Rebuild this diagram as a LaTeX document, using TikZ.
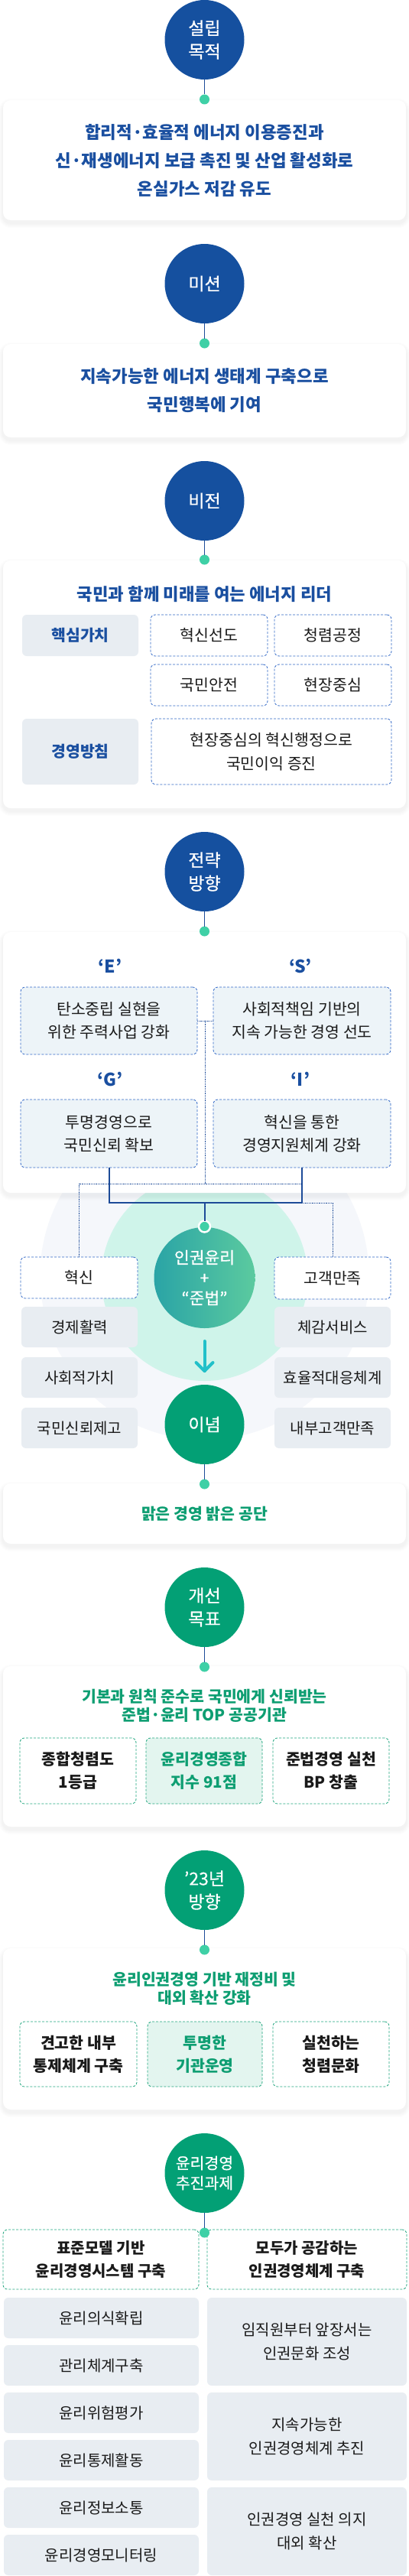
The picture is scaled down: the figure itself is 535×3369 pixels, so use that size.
\documentclass[tikz,border=0pt]{standalone}
\usepackage{fontspec}
\setmainfont{Noto Sans CJK KR}
\newfontfamily\medf{Noto Sans CJK KR}[FakeBold=0.5]
\usetikzlibrary{calc}
\definecolor{cblue}{HTML}{15509F}
\definecolor{tblue}{HTML}{1A4FA0}
\definecolor{mint}{HTML}{3FD0A6}
\definecolor{lineb}{HTML}{1D4B98}
\definecolor{grayb}{HTML}{E8EDF2}
\definecolor{dashb}{HTML}{2F66C6}
\definecolor{lightb}{HTML}{EDF4F8}
\definecolor{cgreen}{HTML}{03A075}
\definecolor{tgreen}{HTML}{0E9E72}
\definecolor{dashg}{HTML}{1FA57D}
\definecolor{lightg}{HTML}{E3F5EF}
\definecolor{arrowc}{HTML}{22C0C9}
\definecolor{pale}{HTML}{F5F7FB}
\definecolor{glowc}{HTML}{CFF4EA}
\definecolor{txt}{HTML}{1A1A1A}
\definecolor{gradl}{HTML}{2AA4A6}
\definecolor{gradr}{HTML}{5BCA9F}
\pgfdeclareradialshading{glowshade}{\pgfpoint{0bp}{0bp}}{color(0bp)=(glowc);color(24bp)=(glowc);color(50bp)=(pale)}
\newcommand\mkbox[7]{\node[#6, minimum width={(#4)-(#2)}, minimum height={(#5)-(#3)}] (#1) at ({((#2)+(#4))/2},{((#3)+(#5))/2}) {#7};}
\newcommand\mkcard[5]{%
 \foreach \k in {1,...,6}{\fill[black,opacity=0.008,rounded corners={10+\k}] ({#2-\k},{#3-\k+4}) rectangle ({#4+\k},{#5+\k+4});}%
 \node[cardst, minimum width={(#4)-(#2)}, minimum height={(#5)-(#3)}] (#1) at ({((#2)+(#4))/2},{((#3)+(#5))/2}) {};}
\tikzset{
 every node/.style={inner sep=0pt, outer sep=0pt},
 bigc/.style={circle, minimum size=104, fill=cblue, text=white, align=center, font=\medf\fontsize{23}{30.5}\selectfont},
 bigg/.style={bigc, fill=cgreen},
 dotn/.style={circle, fill=mint, minimum size=13},
 cardst/.style={rectangle, rounded corners=10, fill=white},
 gbox/.style={rectangle, rounded corners=6, fill=grayb},
 dbox/.style={rectangle, rounded corners=6, draw=dashb, dash pattern=on 3pt off 2pt, line width=0.8pt, fill=white},
 ebox/.style={dbox, fill=lightb},
 gdbox/.style={dbox, draw=dashg},
 gfbox/.style={gdbox, fill=lightg},
 cline/.style={draw=lineb, line width=0.9pt},
 sline/.style={draw=lineb, line width=2pt},
 dotl/.style={draw=lineb, line width=0.8pt, dash pattern=on 0.9pt off 0.9pt},
 btxt/.style={text=tblue, font=\bfseries\fontsize{22.4}{37}\selectfont, align=center},
 btitle/.style={text=tblue, font=\bfseries\fontsize{22.3}{26}\selectfont, align=center},
 bluelab/.style={text=tblue, font=\bfseries\fontsize{20.5}{26}\selectfont, align=center},
 fv/.style={text=txt, font=\fontsize{20.5}{31}\selectfont, align=center},
 fg/.style={text=txt, font=\fontsize{20}{30.5}\selectfont, align=center},
 fvb/.style={text=txt, font=\bfseries\fontsize{20.5}{30}\selectfont, align=center},
 fpb/.style={text=txt, font=\bfseries\fontsize{20}{30}\selectfont, align=center},
 fe/.style={text=txt, font=\fontsize{20.5}{29.7}\selectfont, align=center},
 lab/.style={text=tblue, font=\bfseries\fontsize{23}{26}\selectfont},
 gtxt/.style={text=tgreen, font=\bfseries\fontsize{20.5}{24}\selectfont},
 gtitle/.style={text=tgreen, font=\bfseries\fontsize{20.5}{23.5}\selectfont, align=center},
}
\begin{document}
\begin{tikzpicture}[x=1pt,y=-1pt]
\useasboundingbox[fill=white] (0,0) rectangle (535,3369);
% ---------- section 1
\mkcard{k1}{4}{131}{531}{288}
\node[btxt] (t1) at (267.5,210) {합리적·효율적 에너지 이용증진과\\신·재생에너지 보급 촉진 및 산업 활성화로\\온실가스 저감 유도};
\node[bigc] (c1) at (267.5,52) {설립\\목적};
\node[dotn] (d1) at (267.5,130) {};
\draw[cline] (c1) -- (d1);
% ---------- section 2
\mkcard{k2}{4}{450}{531}{572}
\node[btxt] (t2) at (267.5,511) {지속가능한 에너지 생태계 구축으로\\국민행복에 기여};
\node[bigc] (c2) at (267.5,371) {미션};
\node[dotn] (d2) at (267.5,449) {};
\draw[cline] (c2) -- (d2);
% ---------- section 3
\mkcard{k3}{4}{733}{531}{1057}
\node[bigc] (c3) at (267.5,655) {비전};
\node[dotn] (d3) at (267.5,732) {};
\draw[cline] (c3) -- (d3);
\node[btitle] (t3) at (267.5,777) {국민과 함께 미래를 여는 에너지 리더};
\mkbox{kv}{29}{804}{181}{858}{gbox,bluelab}{핵심가치}
\mkbox{v1}{197}{804}{350}{858}{dbox,fv}{혁신선도}
\mkbox{v2}{359}{804}{512}{858}{dbox,fv}{청렴공정}
\mkbox{v3}{197}{869}{350}{923}{dbox,fv}{국민안전}
\mkbox{v4}{359}{869}{512}{923}{dbox,fv}{현장중심}
\mkbox{mp}{29}{940}{181}{1026}{gbox,bluelab}{경영방침}
\mkbox{mt}{198}{940}{512}{1026}{dbox,fv}{현장중심의 혁신행정으로\\국민이익 증진}
% ---------- section 4
\fill[pale] (267.5,1668) circle (215);
\shade[shading=glowshade] (267.5,1671) circle (135);
\mkcard{k4}{4}{1219}{531}{1560}
\node[bigc] (c4) at (267.5,1140) {전략\\방향};
\node[dotn] (d4) at (267.5,1218) {};
\draw[cline] (c4) -- (d4);
\node[lab] (lE) at (144,1263) {‘E’};
\node[lab] (lS) at (393,1263) {‘S’};
\node[lab] (lG) at (144,1411) {‘G’};
\node[lab] (lI) at (393,1411) {‘I’};
\mkbox{E}{27}{1291}{258}{1379}{ebox,fe}{탄소중립 실현을\\위한 주력사업 강화}
\mkbox{S}{279}{1291}{511}{1379}{ebox,fe}{사회적책임 기반의\\지속 가능한 경영 선도}
\mkbox{G}{27}{1438}{258}{1527}{ebox,fe}{투명경영으로\\국민신뢰 확보}
\mkbox{I}{279}{1438}{511}{1527}{ebox,fe}{혁신을 통한\\경영지원체계 강화}
\mkbox{hx}{27}{1644}{180}{1698}{dbox,fv}{혁신}
\mkbox{cs}{359}{1644}{511}{1699}{dbox,fv}{고객만족}
\mkbox{l1}{28}{1709}{180}{1762}{gbox,fg}{경제활력}
\mkbox{l2}{28}{1775}{180}{1828}{gbox,fg}{사회적가치}
\mkbox{l3}{28}{1841}{180}{1894}{gbox,fg}{국민신뢰제고}
\mkbox{r1}{359}{1709}{511}{1762}{gbox,fg}{체감서비스}
\mkbox{r2}{359}{1775}{511}{1828}{gbox,fg}{효율적대응체계}
\mkbox{r3}{359}{1841}{511}{1894}{gbox,fg}{내부고객만족}
\coordinate (m1) at ($(E.east)!0.5!(S.west)$);
\coordinate (yh) at (0,1548);
\coordinate (hj) at (267.5,1573);
\draw[dotl] (E.east) -- (S.west);
\draw[dotl] (m1) -- (m1 |- yh);
\draw[dotl] (hx.north) |- (I.south |- yh);
\draw[dotl] (I.south |- hj) -| (cs.north);
\node[circle, minimum size=132, left color=gradl, right color=gradr, text=white, align=center, font=\medf\fontsize{21.5}{26.5}\selectfont] (ce) at (267.5,1671) {인권윤리\\+\\“준법”};
\node[circle, fill=mint, draw=white, line width=2.5pt, minimum size=15] (cedot) at (267.5,1604) {};
\draw[sline] (G.south) |- (hj) -| (I.south);
\draw[sline] (hj) -- (cedot);
\node[bigg] (c5) at (267.5,1863) {이념};
\coordinate (a1) at (267.5,1754);
\coordinate (a2) at (267.5,1793);
\draw[arrowc, line width=4pt, line cap=round, line join=round] (a1) -- (a2);
\draw[arrowc, line width=4pt, line cap=round, line join=round] ($(a2)+(-11,-11)$) -- (a2) -- ($(a2)+(11,-11)$);
% ---------- section 5
\mkcard{k5}{4}{1940}{531}{2019}
\node[dotn] (d5) at (267.5,1941) {};
\draw[cline] (c5) -- (d5);
\node[gtxt] (t5) at (267.5,1980) {맑은 경영 밝은 공단};
% ---------- section 6
\mkcard{k6}{4}{2179}{531}{2389}
\node[bigg] (c6) at (267.5,2102) {개선\\목표};
\node[dotn] (d6) at (267.5,2180) {};
\draw[cline] (c6) -- (d6);
\node[gtitle] (t6) at (267.5,2231) {기본과 원칙 준수로 국민에게 신뢰받는\\준법·윤리 TOP 공공기관};
\mkbox{g1}{26}{2273}{178}{2359}{gdbox,fvb}{종합청렴도\\1등급}
\mkbox{g2}{191}{2273}{343}{2359}{gfbox,fvb,text=tgreen}{윤리경영종합\\지수 91점}
\mkbox{g3}{357}{2273}{509}{2359}{gdbox,fvb}{준법경영 실천\\BP 창출}
% ---------- section 7
\mkcard{k7}{4}{2548}{531}{2759}
\node[bigg] (c7) at (267.5,2472) {’23년\\방향};
\node[dotn] (d7) at (267.5,2550) {};
\draw[cline] (c7) -- (d7);
\node[gtitle] (t7) at (267.5,2601) {윤리인권경영 기반 재정비 및\\대외 확산 강화};
\mkbox{h1}{26}{2644}{179}{2729}{gdbox,fvb}{견고한 내부\\통제체계 구축}
\mkbox{h2}{193}{2644}{343}{2729}{gfbox,fvb,text=tgreen}{투명한\\기관운영}
\mkbox{h3}{357}{2644}{509}{2729}{gdbox,fvb}{실천하는\\청렴문화}
% ---------- section 8
\node[bigg, font=\medf\fontsize{20.5}{26}\selectfont] (c8) at (267.5,2842) {윤리경영\\추진과제};
\mkbox{p1}{4}{2916}{260}{2994}{gdbox,fpb}{표준모델 기반\\윤리경영시스템 구축}
\mkbox{p2}{271}{2916}{532}{2994}{gdbox,fpb}{모두가 공감하는\\인권경영체계 구축}
\node[dotn] (d8) at (267.5,2920) {};
\draw[cline] (c8) -- (d8);
\mkbox{q1}{5}{3005}{260}{3058}{gbox,fg}{윤리의식확립}
\mkbox{q2}{5}{3067}{260}{3120}{gbox,fg}{관리체계구축}
\mkbox{q3}{5}{3129}{260}{3182}{gbox,fg}{윤리위험평가}
\mkbox{q4}{5}{3191}{260}{3244}{gbox,fg}{윤리통제활동}
\mkbox{q5}{5}{3253}{260}{3306}{gbox,fg}{윤리정보소통}
\mkbox{q6}{5}{3315}{260}{3368}{gbox,fg}{윤리경영모니터링}
\mkbox{s1}{271}{3005}{532}{3120}{gbox,fg}{임직원부터 앞장서는\\인권문화 조성}
\mkbox{s2}{271}{3129}{532}{3244}{gbox,fg}{지속가능한\\인권경영체계 추진}
\mkbox{s3}{271}{3253}{532}{3368}{gbox,fg}{인권경영 실천 의지\\대외 확산}
\end{tikzpicture}
\end{document}
